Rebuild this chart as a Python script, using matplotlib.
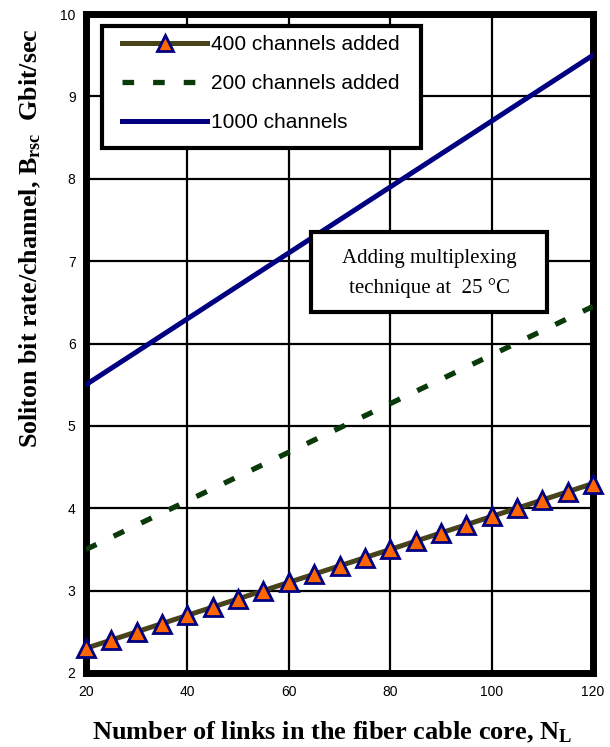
import matplotlib
matplotlib.use("Agg")
import matplotlib.pyplot as plt
from matplotlib.patches import Rectangle

plt.rcParams['mathtext.fontset'] = 'custom'
plt.rcParams['mathtext.rm'] = 'Liberation Serif'
plt.rcParams['mathtext.bf'] = 'Liberation Serif:bold'
plt.rcParams['mathtext.it'] = 'Liberation Serif:italic'

# Data
x_400 = [20, 25, 30, 35, 40, 45, 50, 55, 60, 65, 70, 75, 80, 85, 90, 95, 100, 105, 110, 115, 120]
y_400 = [2.3, 2.4, 2.5, 2.6, 2.7, 2.8, 2.9, 3.0, 3.1, 3.2, 3.3, 3.4, 3.5, 3.6, 3.7, 3.8, 3.9, 4.0, 4.1, 4.2, 4.3]
x_200 = [20, 120]
y_200 = [3.5, 6.45]
x_1000 = [20, 120]
y_1000 = [5.5, 9.5]
x_ticks = [20, 40, 60, 80, 100, 120]
y_ticks = [2, 3, 4, 5, 6, 7, 8, 9, 10]

fig = plt.figure(figsize=(6.1, 7.47), dpi=100)
ax = fig.add_axes([86/610, 74/747, (593-86)/610, (673-14)/747])

ax.set_xlim(20, 120)
ax.set_ylim(2, 10)
ax.set_xticks(x_ticks)
ax.set_yticks(y_ticks)
ax.grid(True, color='black', linewidth=1.6)
ax.set_axisbelow(True)
for s in ax.spines.values():
    s.set_linewidth(5)
    s.set_color('black')
    s.set_capstyle('projecting')
ax.tick_params(axis='both', length=0, labelsize=10)
ax.tick_params(axis='y', pad=7.5)
ax.tick_params(axis='x', pad=9)
for lab in ax.get_xticklabels() + ax.get_yticklabels():
    lab.set_fontfamily('Liberation Sans')

l1, = ax.plot(x_400, y_400, color='#48431a', linewidth=3.6, marker='^', markersize=13,
              markerfacecolor='#ff6600', markeredgecolor='#000080', markeredgewidth=2,
              label='400 channels added', clip_on=False, zorder=5)
l2, = ax.plot(x_200, y_200, color='#0a3a0a', linewidth=3.8, linestyle=(0, (2.2, 3.6)),
              label='200 channels added', zorder=4)
l3, = ax.plot(x_1000, y_1000, color='#000080', linewidth=3.6,
              label='1000 channels', zorder=4)

# legend frame
ax.add_patch(Rectangle((0.0315, 0.797), 0.661 - 0.0315, 0.982 - 0.797, transform=ax.transAxes,
                       facecolor='white', edgecolor='black', linewidth=3, zorder=7, clip_on=False))
leg = ax.legend(handles=[l1, l2, l3], loc='upper left', bbox_to_anchor=(0.071, 0.968),
                prop={'family': 'Liberation Sans', 'size': 15}, frameon=False,
                borderpad=0, borderaxespad=0, labelspacing=0.96,
                handlelength=4.1, handletextpad=0.15, markerscale=0.85, numpoints=1)
leg.set_zorder(8)

# annotation box
ax.add_patch(Rectangle((0.444, 0.548), 0.909 - 0.444, 0.669 - 0.548, transform=ax.transAxes,
                       facecolor='white', edgecolor='black', linewidth=3, zorder=7))
ax.text(0.6765, 0.6065, 'Adding multiplexing\ntechnique at  25 °C', transform=ax.transAxes,
        ha='center', va='center', fontsize=15, family='Liberation Serif', linespacing=1.7,
        zorder=8)

fig.text(332/610, 1 - 732/747, 'Number of links in the fiber cable core, N$_\\mathbf{L}$',
         fontsize=19, family='Liberation Serif', fontweight='bold', ha='center', va='center')
fig.text(30/610, 1 - 238/747, 'Soliton bit rate/channel, B$_\\mathbf{rsc}$  Gbit/sec',
         fontsize=18.7, family='Liberation Serif', fontweight='bold', ha='center', va='center',
         rotation=90)

fig.savefig('out.png', dpi=100)
